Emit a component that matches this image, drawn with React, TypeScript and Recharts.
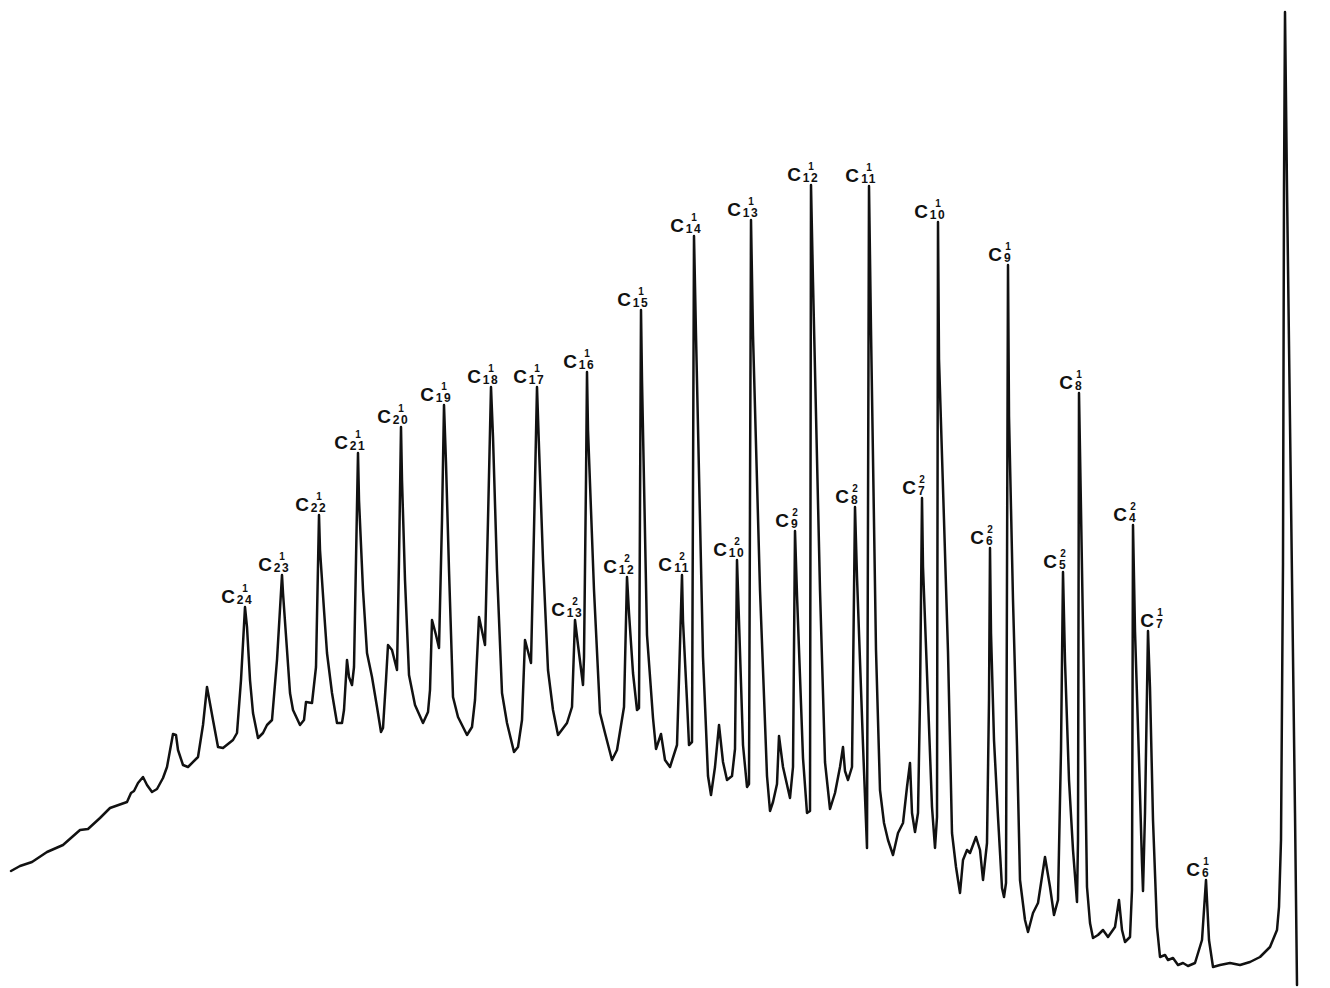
import React from 'react';
import { LineChart, Line, XAxis, YAxis, LabelList } from 'recharts';

// retention position (chart units) and detector response
const retention = [
  11, 20, 32, 47, 63, 80, 88, 100, 110, 127, 131, 134, 138, 143, 147, 152, 157, 163, 167, 171,
  173, 176, 178, 183, 188, 198, 203, 207, 213, 218, 223, 233, 237, 241, 245, 247, 250, 253, 258, 263,
  267, 272, 277, 282, 283, 287, 290, 293, 300, 304, 306, 312, 316, 319, 320, 324, 327, 332, 337, 342,
  344, 347, 349, 352, 354, 356, 358, 359, 363, 367, 372, 377, 381, 383, 386, 388, 392, 397, 399, 401,
  402, 405, 409, 415, 423, 428, 430, 432, 436, 439, 442, 444, 446, 449, 453, 458, 467, 472, 475, 479,
  485, 488, 491, 493, 497, 502, 507, 514, 518, 522, 525, 531, 534, 537, 539, 543, 548, 553, 558, 567,
  572, 575, 578, 583, 584, 586, 587, 588, 594, 600, 605, 612, 617, 624, 627, 629, 633, 637, 639, 641,
  642, 647, 653, 656, 661, 665, 670, 677, 679, 682, 683, 687, 689, 692, 694, 696, 703, 708, 711, 715,
  719, 723, 727, 732, 735, 737, 739, 743, 747, 749, 751, 753, 760, 767, 770, 773, 777, 779, 783, 790,
  793, 795, 797, 803, 807, 810, 811, 813, 820, 825, 830, 835, 840, 843, 845, 848, 852, 855, 857, 863,
  867, 869, 871, 876, 880, 884, 888, 893, 898, 903, 907, 910, 912, 915, 918, 920, 922, 923, 928, 932,
  935, 937, 938, 939, 944, 948, 952, 956, 960, 963, 967, 970, 976, 980, 983, 987, 989, 990, 991, 994,
  998, 1002, 1004, 1006, 1008, 1009, 1013, 1017, 1020, 1025, 1028, 1033, 1038, 1045, 1050, 1054, 1058, 1061, 1063, 1065,
  1069, 1073, 1077, 1078, 1079, 1081, 1084, 1087, 1090, 1093, 1098, 1103, 1108, 1115, 1119, 1122, 1125, 1130, 1132, 1133,
  1135, 1139, 1142, 1143, 1145, 1148, 1150, 1153, 1157, 1160, 1165, 1168, 1173, 1178, 1183, 1188, 1195, 1202, 1206, 1209,
  1213, 1220, 1230, 1240, 1250, 1260, 1270, 1277, 1279, 1281, 1283, 1284, 1285, 1287, 1291, 1295, 1297,
];

const response = [
  117, 122, 126, 136, 143, 158, 159, 170, 180, 186, 195, 197, 205, 211, 203, 196, 199, 210, 221, 243,
  254, 253, 238, 223, 221, 231, 263, 301, 268, 241, 240, 248, 255, 308, 381, 361, 308, 275, 250, 255,
  263, 268, 328, 413, 395, 338, 295, 278, 263, 268, 286, 285, 321, 473, 438, 378, 335, 295, 265, 265,
  278, 328, 311, 303, 321, 428, 535, 488, 398, 335, 311, 281, 256, 260, 308, 343, 338, 318, 428, 561,
  508, 408, 313, 283, 265, 276, 298, 368, 353, 340, 468, 583, 525, 418, 291, 271, 253, 261, 288, 371,
  343, 468, 601, 551, 418, 295, 265, 236, 241, 268, 348, 325, 458, 601, 541, 428, 318, 278, 253, 265,
  281, 368, 343, 303, 331, 508, 616, 558, 398, 275, 255, 228, 238, 281, 411, 375, 315, 278, 280, 678,
  608, 353, 270, 239, 254, 228, 221, 243, 309, 413, 367, 287, 243, 246, 752, 653, 331, 212, 193, 221,
  263, 226, 208, 212, 239, 428, 367, 243, 201, 204, 768, 653, 398, 212, 177, 186, 204, 252, 221, 190,
  221, 457, 393, 230, 175, 177, 803, 706, 398, 226, 179, 195, 221, 241, 217, 208, 221, 481, 411, 243,
  140, 802, 658, 338, 198, 165, 148, 133, 155, 165, 201, 225, 175, 156, 175, 288, 490, 421, 288, 181,
  140, 171, 766, 629, 468, 336, 155, 121, 95, 128, 138, 135, 151, 138, 108, 145, 288, 440, 355, 248,
  171, 100, 91, 105, 723, 572, 388, 242, 108, 68, 56, 75, 85, 131, 101, 73, 88, 238, 416, 327,
  208, 138, 86, 148, 595, 478, 300, 101, 65, 50, 53, 58, 51, 61, 88, 58, 46, 51, 98, 463,
  357, 228, 125, 97, 175, 357, 300, 168, 61, 31, 33, 28, 30, 23, 25, 22, 25, 48, 108, 48,
  21, 23, 25, 23, 26, 31, 41, 58, 81, 148, 425, 800, 976, 800, 488, 175, 3,
];

// peak annotations: carbon number and homologous series (superscript)
const peakTimes = [245, 282, 319, 358, 401, 444, 491, 537, 575, 587, 627, 641, 682, 694, 737, 751, 795, 811, 855, 869, 922, 938, 990, 1008, 1063, 1079, 1133, 1148, 1206];
const peakCarbons = [24, 23, 22, 21, 20, 19, 18, 17, 13, 16, 12, 15, 11, 14, 10, 13, 9, 12, 8, 11, 7, 10, 6, 9, 5, 8, 4, 7, 6];
const peakSeries = [1, 1, 1, 1, 1, 1, 1, 1, 2, 1, 2, 1, 2, 1, 2, 1, 2, 1, 2, 1, 2, 1, 2, 1, 2, 1, 2, 1, 1];

const data = retention.map((t, i) => ({ time: t, signal: response[i] }));

const font = '"Liberation Sans", Arial, sans-serif';

function PeakLabel(props: any) {
  const { index } = props;
  if (typeof index !== 'number') return <g />;
  const point = data[index];
  if (!point) return <g />;
  const k = peakTimes.indexOf(point.time);
  if (k < 0) return <g />;
  // C7 label sits to the right of its peak, clear of the C4 line
  const x = Number(props.x) + (peakCarbons[k] === 7 && peakSeries[k] === 1 ? 12 : 0);
  const y = Number(props.y);
  const sub = String(peakCarbons[k]);
  const cRight = sub.length > 1 ? x - 10 : x - 6;
  return (
    <g fontFamily={font} fontWeight="bold" fill="#111">
      <text x={cRight} y={y - 4} fontSize={19} textAnchor="end">C</text>
      <text x={x} y={y - 15} fontSize={10} textAnchor="middle">{peakSeries[k]}</text>
      <text x={x} y={y - 3} fontSize={12} textAnchor="middle" letterSpacing={1.5}>{sub}</text>
    </g>
  );
}

export default function App() {
  return (
    <div style={{ position: 'absolute', left: 0, top: 0, width: 1330, height: 988, background: '#fff' }}>
      <LineChart width={1330} height={988} data={data} margin={{ top: 0, right: 0, bottom: 0, left: 0 }}>
        <XAxis dataKey="time" type="number" domain={[0, 1330]} hide />
        <YAxis type="number" domain={[0, 988]} hide />
        <Line
          type="linear"
          dataKey="signal"
          stroke="#111"
          strokeWidth={2.5}
          strokeLinejoin="round"
          strokeLinecap="round"
          dot={false}
          activeDot={false}
          isAnimationActive={false}
        >
          <LabelList dataKey="signal" content={<PeakLabel />} />
        </Line>
      </LineChart>
    </div>
  );
}
